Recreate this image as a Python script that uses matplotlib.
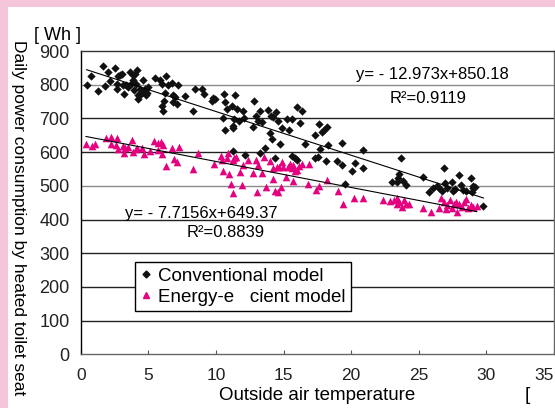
import numpy as np
import matplotlib.pyplot as plt
from matplotlib.patches import Rectangle
from matplotlib.lines import Line2D

plt.rcParams['font.family'] = ['Liberation Sans', 'DejaVu Sans']

# conventional model: (temperature, Wh)
conv_x = [0.44, 0.74, 1.26, 1.67, 1.80, 2.0, 2.17, 2.54, 2.66, 2.71, 2.78, 2.91, 3.03, 3.10,
          3.20, 3.33, 3.52, 3.65, 3.72, 3.84, 3.89, 3.94, 4.01, 4.09, 4.19, 4.21, 4.26, 4.38,
          4.46, 4.58, 4.63, 4.75, 4.83, 4.93, 5.0, 5.49, 5.86, 5.99, 5.99, 6.1, 6.16, 6.23,
          6.3, 6.48, 6.72, 6.8, 6.85, 6.97, 7.09, 7.22, 7.71, 8.28, 8.45, 8.94, 9.11, 9.68,
          9.80, 9.93, 10.54, 10.62, 10.66, 10.66, 10.79, 11.16, 11.23, 11.23, 11.28, 11.33,
          11.40, 11.53, 11.72, 12.02, 12.14, 12.07, 12.76, 12.83, 13.0, 13.13, 13.25, 13.25,
          13.37, 13.62, 13.87, 13.99, 14.04, 14.14, 14.24, 14.36, 14.43, 14.61, 14.73, 14.85,
          15.22, 15.42, 15.59, 15.66, 15.84, 15.96, 16.01, 16.21, 16.40, 16.58, 17.33, 17.65,
          17.82, 18.0, 18.2, 17.70, 18.31, 17.33, 17.58, 18.14, 18.93, 19.3, 19.3, 20.04,
          20.29, 20.86, 20.9, 19.55, 23.69, 23.57, 23.0, 23.4, 23.49, 23.86, 24.06, 25.30,
          25.79, 26.03, 26.33, 26.53, 26.70, 26.87, 26.94, 27.07, 27.44, 27.51, 27.68, 28.0,
          28.1, 28.30, 28.50, 28.85, 29.0, 29.04, 29.16, 28.92, 29.78]
conv_y = [800, 825, 780, 855, 795, 838, 811, 850, 803, 786, 825, 830, 833, 798,
          773, 800, 793, 838, 803, 813, 828, 783, 833, 803, 845, 758, 768, 788,
          773, 815, 778, 788, 768, 775, 793, 820, 813, 803, 738, 721, 753, 775,
          825, 798, 806, 768, 748, 763, 743, 800, 766, 723, 788, 788, 771, 753,
          761, 758, 701, 773, 748, 665, 728, 738, 678, 671, 603, 698,
          768, 728, 693, 723, 591, 701, 673, 753, 708, 693, 721, 598,
          688, 611, 725, 658, 708, 638, 703, 583, 718, 693, 623, 671,
          698, 665, 698, 588, 583, 733, 578, 685, 723, 625, 650, 683,
          660, 667, 673, 610, 622, 583, 585, 573, 573, 627, 562, 545,
          568, 607, 552, 505, 582, 535, 512, 512, 523, 515, 503, 525,
          483, 493, 500, 493, 485, 553, 507, 493, 510, 485, 490, 533,
          503, 487, 485, 523, 493, 500, 497, 483, 439]

# energy-efficient model
eff_x = [0.39, 0.81, 1.06, 1.87, 2.22, 2.66, 2.22, 2.61, 2.78, 3.15, 3.28, 3.23, 3.52, 3.77,
         3.84, 4.09, 4.19, 4.51, 4.71, 5.12, 5.45, 5.69, 5.74, 5.94, 6.11, 5.99, 6.31, 6.72,
         6.90, 7.09, 7.30, 8.28, 8.70, 9.86, 10.35, 10.50, 10.43, 10.79, 10.91, 10.99, 11.09,
         11.28, 11.33, 11.23, 11.48, 11.78, 11.91, 12.02, 12.40, 12.71, 13.0, 13.05, 13.13,
         13.37, 13.55, 13.69, 13.99, 14.19, 14.24, 14.36, 14.48, 14.61, 14.68, 14.78, 14.85,
         14.93, 15.17, 15.34, 15.47, 15.61, 15.68, 15.73, 15.86, 16.03, 16.17, 16.35, 16.84,
         16.91, 17.40, 17.65, 18.19, 19.06, 19.43, 20.21, 20.86, 22.38, 22.88, 23.18, 23.38,
         23.42, 23.57, 23.74, 23.91, 24.06, 24.31, 25.34, 25.88, 26.53, 26.63, 26.87, 27.02,
         27.12, 27.32, 27.44, 27.61, 27.76, 27.86, 28.0, 28.18, 28.35, 28.50, 28.67, 28.85,
         29.04, 29.29]
eff_y = [625, 618, 623, 641, 646, 643, 623, 621, 608, 618, 613, 598, 615, 635,
         601, 608, 611, 613, 593, 603, 633, 628, 605, 631, 621, 595, 558, 613,
         581, 571, 615, 551, 598, 565, 588, 545, 578, 583, 598, 535, 505,
         578, 583, 480, 585, 541, 501, 563, 578, 538, 578, 483, 561,
         538, 585, 495, 575, 553, 520, 485, 555, 481, 555, 495, 570,
         555, 525, 555, 565, 553, 515, 563, 545, 548, 558, 565, 505,
         565, 487, 500, 517, 485, 447, 463, 465, 457, 455, 457, 463,
         445, 453, 437, 457, 445, 445, 433, 423, 433, 463, 453, 430,
         443, 457, 435, 445, 453, 423, 445, 437, 453, 460, 435, 443,
         437, 440]

conv_fit = (-12.973, 850.18)
eff_fit = (-7.7156, 649.37)

labels = ["Conventional model", "Energy-e   cient model"]
x_ticks = [0, 5, 10, 15, 20, 25, 30, 35]
y_ticks = [0, 100, 200, 300, 400, 500, 600, 700, 800, 900]

pink = '#F5C6DA'
magenta = '#E4007F'

fig = plt.figure(figsize=(5.55, 4.08), dpi=100, facecolor=pink)
fig.patches.append(Rectangle((8 / 555, 0), 1, 401 / 408, transform=fig.transFigure,
                             facecolor='white', edgecolor='none', zorder=-5))

ax = fig.add_axes([80.7 / 555, 1 - 354.3 / 408, (554 - 80.7) / 555, (354.3 - 51) / 408])
ax.set_zorder(1)
ax.set_xlim(0, 35)
ax.set_ylim(0, 900)

# horizontal grid lines (some render lighter in the original)
for v in y_ticks[1:-1]:
    c = '#8a8a8a' if v in (500, 800) else '#222222'
    ax.axhline(v, color=c, lw=1.0, zorder=1)

ax.scatter(conv_x, conv_y, marker='D', s=18, color='#111111', zorder=3, linewidths=0)
ax.scatter(eff_x, eff_y, marker='^', s=30, color=magenta, zorder=3, linewidths=0)

for xs, (m, b) in ((conv_x, conv_fit), (eff_x, eff_fit)):
    xx = np.array([min(xs), max(xs)])
    ax.plot(xx, m * xx + b, color='black', lw=0.8, zorder=4)

ax.text(26.0, 829, "y= - 12.973x+850.18", ha='center', va='center', fontsize=12)
ax.text(25.7, 760, "R²=0.9119", ha='center', va='center', fontsize=12)
ax.text(8.9, 419, "y= - 7.7156x+649.37", ha='center', va='center', fontsize=12)
ax.text(10.75, 360, "R²=0.8839", ha='center', va='center', fontsize=12)

ax.set_xticks(x_ticks)
ax.set_yticks(y_ticks)
ax.set_xticklabels([str(t) for t in x_ticks], fontsize=12.5, color='#222222')
ax.get_xticklabels()[-1].set_horizontalalignment('right')
ax.set_yticklabels([str(t) for t in y_ticks], fontsize=13, color='#222222')
ax.tick_params(axis='x', direction='in', length=3, color='#555555', pad=10)
ax.tick_params(axis='y', length=0, pad=8)

ax.spines['left'].set_color('black')
ax.spines['top'].set_color('#333333')
ax.spines['bottom'].set_color('#666666')
ax.spines['right'].set_color('#666666')
for s in ax.spines.values():
    s.set_linewidth(1.0)

handles = [Line2D([], [], ls='', marker='D', ms=3.5, color='#111111'),
           Line2D([], [], ls='', marker='^', ms=4.5, color=magenta)]
leg = ax.legend(handles, labels, loc='upper left', bbox_to_anchor=(135 / 555, 1 - 262 / 408),
                bbox_transform=fig.transFigure,
                fontsize=13.5, frameon=True, fancybox=False, handlelength=0.6,
                handletextpad=0.3, borderpad=0.3, labelspacing=0.2, borderaxespad=0,
                framealpha=1)
leg.get_frame().set_edgecolor('black')
leg.get_frame().set_linewidth(1.0)
leg.set_zorder(5)

fig.text(317 / 555, 1 - 396 / 408, "Outside air temperature", ha='center', va='center', fontsize=13.5)
fig.text(527 / 555, 1 - 396 / 408, "[", ha='center', va='center', fontsize=13.5)
fig.text(57 / 555, 1 - 36 / 408, "[ Wh ]", ha='center', va='center', fontsize=13)
fig.text(18 / 555, 1 - 218 / 408, "Daily power consumption by heated toilet seat",
         ha='center', va='center', rotation=270, fontsize=12.5)

fig.savefig('out.png', dpi=100, facecolor=pink)
